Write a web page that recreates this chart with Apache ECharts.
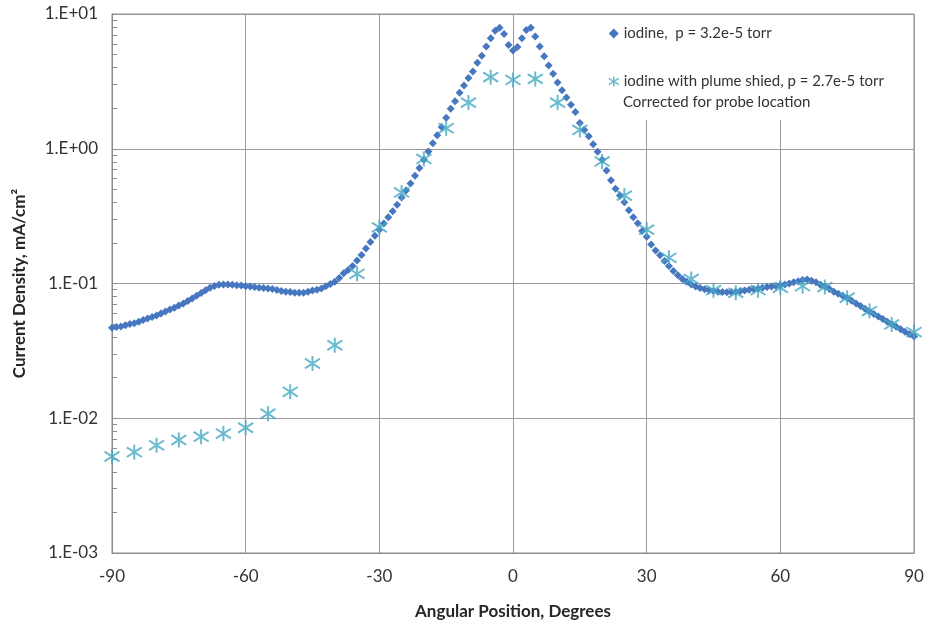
<!DOCTYPE html>
<html>
<head>
<meta charset="utf-8">
<script src="https://cdn.jsdelivr.net/npm/echarts@6/dist/echarts.min.js"></script>
<style>
  html, body { margin: 0; padding: 0; background: #fff; }
  #chart { width: 930px; height: 625px; }
</style>
</head>
<body>
<div id="chart"></div>
<script>
// Angular scan of ion current density, iodine propellant.
// Unshielded scan: one reading per degree from -90 to 90.
const scanStartDeg = -90;
const scanStepDeg = 1;
const iodineDensity = [
  0.047, 0.0475, 0.048, 0.049, 0.050, 0.0508, 0.052, 0.0535, 0.055, 0.0565,
  0.058, 0.060, 0.062, 0.064, 0.066, 0.0687, 0.071, 0.074, 0.0775, 0.081,
  0.085, 0.089, 0.093, 0.096, 0.098, 0.0985, 0.0985, 0.098, 0.097, 0.0965,
  0.0955, 0.095, 0.094, 0.093, 0.0925, 0.0918, 0.091, 0.0895, 0.088, 0.087,
  0.0863, 0.0855, 0.0853, 0.0855, 0.087, 0.0887, 0.090, 0.092, 0.0955, 0.099,
  0.103, 0.110, 0.119, 0.126, 0.135, 0.148, 0.163, 0.182, 0.203, 0.226,
  0.251, 0.279, 0.31, 0.344, 0.384, 0.434, 0.49, 0.553, 0.63, 0.72,
  0.83, 0.955, 1.10, 1.26, 1.45, 1.70, 1.98, 2.25, 2.6, 2.95,
  3.35, 3.75, 4.35, 4.9, 5.75, 6.6, 7.5, 7.9, 7.1, 5.9,
  5.35, 5.7, 6.6, 7.6, 7.9, 6.8, 5.75, 4.85, 4.15, 3.6,
  3.1, 2.72, 2.4, 2.12, 1.87, 1.55, 1.38, 1.24, 1.08, 0.95,
  0.83, 0.69, 0.585, 0.505, 0.45, 0.40, 0.35, 0.31, 0.28, 0.245,
  0.222, 0.195, 0.176, 0.162, 0.147, 0.135, 0.124, 0.115, 0.108, 0.103,
  0.0985, 0.095, 0.0925, 0.0905, 0.089, 0.088, 0.087, 0.0865, 0.0862, 0.0865,
  0.087, 0.0878, 0.0888, 0.090, 0.091, 0.092, 0.093, 0.094, 0.095, 0.096,
  0.097, 0.0985, 0.100, 0.102, 0.104, 0.106, 0.107, 0.105, 0.102, 0.098,
  0.095, 0.091, 0.087, 0.084, 0.081, 0.078, 0.0745, 0.071, 0.068, 0.065,
  0.062, 0.0595, 0.057, 0.0545, 0.052, 0.0498, 0.0478, 0.0458, 0.0438, 0.042,
  0.0405
];

// Shielded scan (corrected for probe location): every 5 degrees.
const shieldAngles = [
  -90, -85, -80, -75, -70, -65, -60, -55, -50, -45, -40, -35, -30,
  -25, -20, -15, -10, -5, 0, 5, 10, 15, 20, 25, 30, 35, 40, 45,
  50, 55, 60, 65, 70, 75, 80, 85, 90
];
const shieldDensity = [
  0.0052, 0.0056, 0.0063, 0.0069, 0.0073, 0.0077, 0.0085, 0.0108, 0.0157,
  0.0255, 0.0348, 0.118, 0.261, 0.474, 0.84, 1.42, 2.20, 3.40, 3.24, 3.30,
  2.20, 1.38, 0.805, 0.449, 0.251, 0.155, 0.108, 0.0892, 0.0853, 0.0892,
  0.093, 0.0955, 0.094, 0.0784, 0.0624, 0.0497, 0.0436
];

const xTicks = [-90, -60, -30, 0, 30, 60, 90];
const yTickValues = [0.001, 0.01, 0.1, 1, 10];
const yTickLabels = ['1.E-03', '1.E-02', '1.E-01', '1.E+00', '1.E+01'];

const seriesNames = [
  'iodine,  p = 3.2e-5 torr',
  'iodine with plume shied, p = 2.7e-5 torr'
];
const noteLine = 'Corrected for probe location';

const blue = '#4677BF';
const teal = '#45A9C4';
const gridGray = '#9A9A9A';
const axisGray = '#8C8C8C';
const textColor = '#333333';
const fontFamily = 'Lato, "Open Sans", sans-serif';

// Six-spoke asterisk marker
const asterisk = 'path://M7,0L7,14M0,2.5L14,11.5M0,11.5L14,2.5';

// Ticks at 1..9 within each decade
const decadeTicks = [];
for (let e = -3; e < 1; e++) {
  for (let m = 1; m <= 9; m++) decadeTicks.push(m * Math.pow(10, e));
}
decadeTicks.push(10);

const iodinePoints = iodineDensity.map((v, i) => [scanStartDeg + i * scanStepDeg, v]);
const shieldPoints = shieldDensity.map((v, i) => [shieldAngles[i], v]);

const chart = echarts.init(document.getElementById('chart'), null, { renderer: 'canvas' });

const yMin = yTickValues[0];
const yMax = yTickValues[yTickValues.length - 1];

chart.setOption({
  animation: false,
  backgroundColor: '#ffffff',
  textStyle: { fontFamily: fontFamily },
  grid: {
    left: 112, right: 16, top: 14, bottom: 71,
    show: true, borderColor: axisGray, borderWidth: 1
  },
  xAxis: {
    type: 'value',
    min: xTicks[0], max: xTicks[xTicks.length - 1], interval: 30,
    name: 'Angular Position, Degrees',
    nameLocation: 'middle',
    nameGap: 50,
    nameTextStyle: { fontFamily: fontFamily, fontSize: 17, fontWeight: 'bold', color: '#262626' },
    axisLine: { show: true, onZero: false, lineStyle: { color: axisGray } },
    axisTick: { show: false },
    axisLabel: { fontFamily: fontFamily, fontSize: 17, color: textColor, margin: 15 },
    splitLine: { show: true, lineStyle: { color: gridGray, width: 1 } }
  },
  yAxis: [
    {
      type: 'log',
      logBase: 10,
      min: yMin, max: yMax,
      name: 'Current Density, mA/cm²',
      nameLocation: 'middle',
      nameGap: 84,
      nameRotate: 90,
      nameTextStyle: { fontFamily: fontFamily, fontSize: 17, fontWeight: 'bold', color: '#262626' },
      axisLine: { show: true, onZero: false, lineStyle: { color: axisGray } },
      axisTick: {
        show: true, inside: true, length: 5,
        customValues: decadeTicks,
        lineStyle: { color: axisGray }
      },
      axisLabel: {
        fontFamily: fontFamily, fontSize: 17, color: textColor, margin: 14,
        customValues: yTickValues,
        formatter: function (v) {
          const idx = yTickValues.findIndex(t => Math.abs(Math.log10(t) - Math.log10(v)) < 1e-6);
          return idx >= 0 ? yTickLabels[idx] : '';
        }
      },
      splitLine: { show: false }
    },
    {
      // decade gridlines only
      type: 'log',
      logBase: 10,
      min: yMin, max: yMax,
      position: 'left',
      axisLine: { show: false, onZero: false },
      axisTick: { show: false, customValues: yTickValues },
      axisLabel: { show: false, customValues: yTickValues },
      splitLine: { show: true, lineStyle: { color: gridGray, width: 1 } }
    }
  ],
  legend: {
    orient: 'vertical',
    left: 608,
    top: 26,
    padding: 0,
    itemGap: 33,
    itemWidth: 10,
    itemHeight: 10,
    textStyle: { fontFamily: fontFamily, fontSize: 15, color: textColor },
    data: [
      { name: seriesNames[0], icon: 'diamond', itemStyle: { color: blue } },
      { name: seriesNames[1], icon: asterisk, itemStyle: { color: 'transparent', borderColor: teal, borderWidth: 1.5 } }
    ],
    z: 6
  },
  graphic: [
    {
      type: 'rect',
      z: 5,
      shape: { x: 604, y: 15, width: 309, height: 105 },
      style: { fill: '#ffffff' }
    },
    {
      type: 'text',
      z: 6,
      left: 623,
      top: 95,
      style: { text: noteLine, font: '15px ' + fontFamily, fill: textColor }
    }
  ],
  series: [
    {
      name: seriesNames[0],
      type: 'scatter',
      yAxisIndex: 0,
      symbol: 'diamond',
      symbolSize: [8, 8],
      itemStyle: { color: blue, opacity: 1 },
      data: iodinePoints,
      z: 2
    },
    {
      name: seriesNames[1],
      type: 'scatter',
      yAxisIndex: 0,
      symbol: asterisk,
      symbolSize: 15,
      itemStyle: { color: 'transparent', borderColor: teal, borderWidth: 2 },
      data: shieldPoints,
      z: 3
    }
  ]
});
</script>
</body>
</html>
